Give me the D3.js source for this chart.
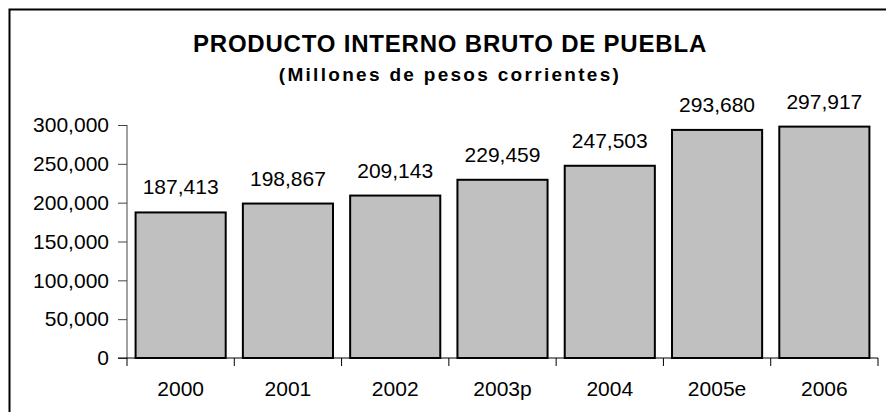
<!DOCTYPE html>
<html>
<head>
<meta charset="utf-8">
<script src="https://cdn.jsdelivr.net/npm/d3@7"></script>
<style>
  body { margin: 0; background: #fff; }
  svg { display: block; font-family: "Liberation Sans", Arial, sans-serif; }
</style>
</head>
<body>
<div class="chart"></div>
<script>
let years  = ['2000', '2001', '2002', '2003p', '2004', '2005e', '2006'];
let values = [187413, 198867, 209143, 229459, 247503, 293680, 297917];
let yTicks = [0, 50000, 100000, 150000, 200000, 250000, 300000];

let width = 886,
    height = 412;

let margin = {top: 125, right: 8, bottom: 54, left: 127};

let plot = d3.select('.chart').append('svg')
    .attr('width', width)
    .attr('height', height);

// outer frame, cut off at right/bottom like the source image
plot.append('rect')
    .attr('x', 9.5).attr('y', 9.5)
    .attr('width', width + 20).attr('height', height + 20)
    .attr('fill', 'none')
    .attr('stroke', '#000')
    .attr('stroke-width', 2);

let x = d3.scaleBand()
    .domain(years)
    .range([margin.left, width - margin.right])
    .paddingInner(0.16)
    .paddingOuter(0.08);

let y = d3.scaleLinear()
    .domain([0, 300000])
    .range([height - margin.bottom, margin.top]);

// title
plot.append('text')
    .attr('x', 450).attr('y', 52)
    .attr('text-anchor', 'middle')
    .style('font-size', '24px')
    .style('font-weight', 'bold')
    .style('letter-spacing', '0.8px')
    .text('PRODUCTO INTERNO BRUTO DE PUEBLA');

plot.append('text')
    .attr('x', 450).attr('y', 81)
    .attr('text-anchor', 'middle')
    .style('font-size', '19px')
    .style('font-weight', 'bold')
    .style('letter-spacing', '2.3px')
    .text('(Millones de pesos corrientes)');

// bars
plot.append('g')
    .selectAll('rect')
    .data(values)
    .join('rect')
    .attr('x', (d, i) => x(years[i]))
    .attr('y', d => y(d))
    .attr('width', x.bandwidth())
    .attr('height', d => y(0) - y(d))
    .attr('fill', '#c0c0c0')
    .attr('stroke', '#000')
    .attr('stroke-width', 2);

// value labels
plot.append('g')
    .selectAll('text')
    .data(values)
    .join('text')
    .attr('x', (d, i) => x(years[i]) + x.bandwidth() / 2)
    .attr('y', d => y(d) - 18)
    .attr('text-anchor', 'middle')
    .style('font-size', '21px')
    .text(d => d3.format(',')(d));

// y axis
let yAxis = plot.append('g')
    .attr('transform', `translate(${margin.left},0)`)
    .call(d3.axisLeft(y).tickValues(yTicks).tickFormat(d3.format(',')).tickSize(9).tickPadding(9));

yAxis.select('.domain').attr('stroke', '#444').attr('d', `M0,${y(300000)}V${y(0)}`);
yAxis.selectAll('line').attr('stroke', '#444');
yAxis.selectAll('text')
    .style('font-size', '21px')
    .style('font-family', '"Liberation Sans", Arial, sans-serif')
    .attr('fill', '#000');

// x axis: ticks sit on the category boundaries
let xAxis = plot.append('g')
    .attr('transform', `translate(0,${y(0)})`);

xAxis.append('line')
    .attr('x1', margin.left - 9).attr('x2', width - margin.right)
    .attr('stroke', '#000');

let bounds = years.map(d => x(d) - x.step() * x.paddingInner() / 2);
bounds.push(width - margin.right);

xAxis.selectAll('.tk')
    .data(bounds)
    .join('line')
    .attr('class', 'tk')
    .attr('x1', d => d).attr('x2', d => d)
    .attr('y1', 0).attr('y2', 8)
    .attr('stroke', '#000');

xAxis.selectAll('.lbl')
    .data(years)
    .join('text')
    .attr('class', 'lbl')
    .attr('x', d => x(d) + x.bandwidth() / 2)
    .attr('y', 38)
    .attr('text-anchor', 'middle')
    .style('font-size', '21px')
    .text(d => d);
</script>
</body>
</html>
